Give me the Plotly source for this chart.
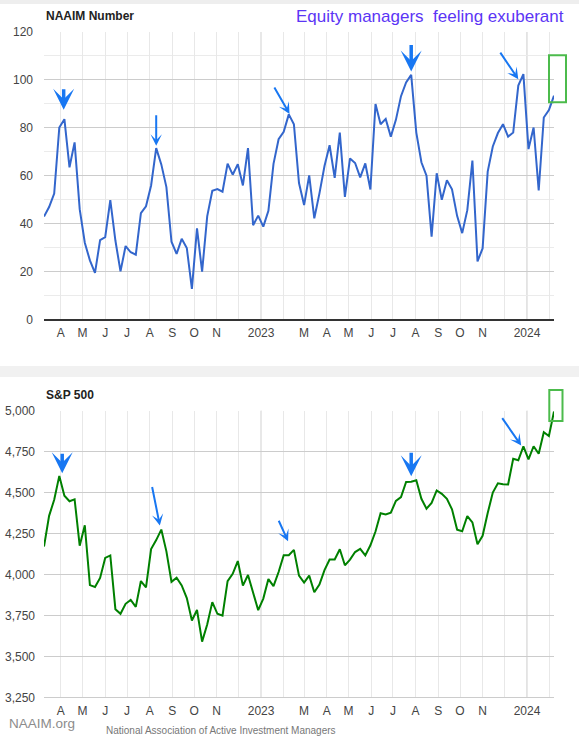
import plotly.graph_objects as go
import pandas as pd

# ---------------- data ----------------
start_date = "2022-03-09"
end_date = "2024-02-07"

naaim = [
    42.9, 46.9, 52.5, 80.1, 83.6, 63.5, 73.9, 46.0, 32.0, 24.6, 19.4, 33.1, 34.3,
    49.8, 32.9, 20.0, 30.6, 28.0, 27.0, 44.3, 47.2, 55.9, 71.5, 64.7, 55.2, 32.4,
    27.3, 33.6, 29.8, 12.7, 38.0, 19.9, 43.0, 53.7, 54.4, 53.3, 65.0, 60.4, 64.8,
    55.9, 71.5, 39.3, 43.3,
    38.7, 45.3, 64.9, 75.2, 78.3, 85.6, 81.5, 56.9, 47.7, 60.1, 42.2, 52.5, 64.0,
    72.7, 59.1, 78.0, 51.1, 67.2, 65.3, 59.3, 65.1, 54.2, 89.9, 81.5, 83.7, 76.3,
    83.3, 93.2, 98.9, 102.1, 78.0, 65.6, 60.0, 34.5, 61.0, 49.9, 58.1, 54.3, 43.2,
    36.0, 45.6, 66.3, 24.2, 29.6, 61.7, 72.2, 77.8, 81.5, 76.3, 78.0, 97.6, 102.4,
    71.1, 80.1, 53.8, 84.3, 87.4, 93.4,
]

spx = [
    4171, 4358, 4456, 4602, 4481, 4447, 4459, 4176, 4300, 3935, 3924, 3979, 4101,
    4116, 3788, 3760, 3821, 3845, 3802, 3960, 3921, 4155, 4210, 4274, 4141, 3955,
    3980, 3933, 3856, 3719, 3783, 3590, 3695, 3831, 3760, 3749, 3959, 4004, 4082,
    3932, 3997, 3882, 3782,
    3853, 3972, 3929, 4015, 4118, 4117, 4150, 3993, 3950, 3993, 3891, 3938, 4027,
    4091, 4092, 4154, 4056, 4091, 4137, 4156, 4116, 4178, 4262, 4374, 4366, 4377,
    4449, 4472, 4565, 4566, 4575, 4462, 4402, 4437, 4513, 4492, 4462, 4398, 4274,
    4264, 4357, 4318, 4185, 4236, 4375, 4500, 4557, 4551, 4550, 4706, 4697, 4782,
    4703, 4783, 4737, 4868, 4845, 4995,
]

month_ticks = [d.strftime("%Y-%m-%d") for d in pd.date_range("2022-04-01", "2024-02-01", freq="MS")]
month_labels = ["A", "M", "J", "J", "A", "S", "O", "N", "", "2023", "", "M", "A", "M",
                "J", "J", "A", "S", "O", "N", "", "2024", ""]
year_lines = ["2023-01-01", "2024-01-01"]

dates = [d.strftime("%Y-%m-%d") for d in pd.date_range(start_date, end_date, freq="7D")]
assert len(dates) == len(naaim) == len(spx), (len(dates), len(naaim), len(spx))

# arrows: (date, value, ax, ay, fat)
naaim_arrows = [
    ("2022-04-05", 87.5, 0, -22, True),
    ("2022-08-10", 72.5, 0, -32, False),
    ("2023-02-09", 85.8, -16, -28, False),
    ("2023-07-26", 103.5, 0, -28, True),
    ("2023-12-20", 100.3, -19, -28, False),
]
spx_arrows = [
    ("2022-04-03", 4618, 0, -21, True),
    ("2022-08-15", 4299, -8, -40, False),
    ("2023-02-07", 4203, -10, -22, False),
    ("2023-07-26", 4599, 0, -25, True),
    ("2023-12-24", 4787, -20, -29, False),
]

# ---------------- geometry (pixels) ----------------
W, H = 579, 738
def px(x):
    return x / W
def py(y):
    return (H - y) / H

x_dom = [px(44), px(554)]
top_dom = [py(319.3), py(32)]
bot_dom = [py(697.3), py(410.7)]

tick_font = dict(family="Liberation Sans, Arial, sans-serif", size=12, color="#444444")
arrow_color = "#1877f2"

fig = go.Figure()
fig.add_trace(go.Scatter(x=dates, y=naaim, mode="lines", xaxis="x", yaxis="y",
                         line=dict(color="#3366cc", width=2), hoverinfo="x+y"))
fig.add_trace(go.Scatter(x=dates, y=spx, mode="lines", xaxis="x2", yaxis="y2",
                         line=dict(color="#008000", width=2), hoverinfo="x+y"))

common_x = dict(type="date", range=[start_date, end_date], tickmode="array",
                tickvals=month_ticks, ticktext=month_labels, showgrid=True,
                gridcolor="#e8e8e8", gridwidth=1, tickfont=tick_font, zeroline=False,
                ticks="outside", ticklen=2, tickcolor="rgba(0,0,0,0)", domain=x_dom,
                automargin=False)

fig.update_layout(
    template="none",
    width=W, height=H, autosize=False, margin=dict(l=0, r=0, t=0, b=0, pad=0),
    paper_bgcolor="white", plot_bgcolor="white", showlegend=False,
    font=dict(family="Liberation Sans, Arial, sans-serif"),
    xaxis=dict(common_x, anchor="y", showline=True, linecolor="#333333", linewidth=1.5),
    yaxis=dict(domain=top_dom, anchor="x", range=[0, 120], dtick=20, tick0=0,
               showgrid=True, gridcolor="#cccccc", zeroline=False, tickfont=tick_font,
               ticklabelstandoff=10, automargin=False, showline=False, ticks="",
               minor=dict(dtick=10, tick0=0, showgrid=True, gridcolor="#ebebeb")),
    xaxis2=dict(common_x, anchor="y2", showline=True, linecolor="#cccccc", linewidth=1),
    yaxis2=dict(domain=bot_dom, anchor="x2", range=[3250, 5000], dtick=250, tick0=3250,
                tickformat=",d", showgrid=True, gridcolor="#cccccc", zeroline=False,
                tickfont=tick_font, ticklabelstandoff=8, automargin=False,
                showline=False, ticks=""),
)

shapes = []
for yl in year_lines:
    shapes.append(dict(type="line", xref="x", yref="y domain", x0=yl, x1=yl, y0=0, y1=1,
                       line=dict(color="#c4c4c4", width=1), layer="below"))
    shapes.append(dict(type="line", xref="x2", yref="y2 domain", x0=yl, x1=yl, y0=0, y1=1,
                       line=dict(color="#c4c4c4", width=1), layer="below"))
# page strips (screenshot background)
shapes.append(dict(type="rect", xref="paper", yref="paper", x0=0, x1=1, y0=py(4), y1=py(0),
                   fillcolor="#eeeeee", line=dict(width=0), layer="below"))
shapes.append(dict(type="rect", xref="paper", yref="paper", x0=0, x1=1, y0=py(377), y1=py(366),
                   fillcolor="#f1f1f1", line=dict(width=0), layer="below"))
# green highlight boxes
shapes.append(dict(type="rect", xref="paper", yref="paper", x0=px(549), x1=px(566),
                   y0=py(102.3), y1=py(55.3), line=dict(color="#4cbb4c", width=2)))
shapes.append(dict(type="rect", xref="paper", yref="paper", x0=px(549.3), x1=px(562.5),
                   y0=py(421), y1=py(390), line=dict(color="#4cbb4c", width=2)))
fig.update_layout(shapes=shapes)

ann = []
ann.append(dict(text="<b>NAAIM Number</b>", xref="paper", yref="paper", x=px(44), y=py(16),
                xanchor="left", yanchor="middle", showarrow=False,
                font=dict(size=12, color="#222222")))
ann.append(dict(text="Equity managers\u00a0 feeling exuberant", xref="paper", yref="paper",
                x=px(566), y=py(17), xanchor="right", yanchor="middle", showarrow=False,
                font=dict(size=17, color="#5b35f5")))
ann.append(dict(text="<b>S&amp;P 500</b>", xref="paper", yref="paper", x=px(44), y=py(395),
                xanchor="left", yanchor="middle", showarrow=False,
                font=dict(size=12, color="#222222")))
ann.append(dict(text="NAAIM.org", xref="paper", yref="paper", x=px(7), y=py(723),
                xanchor="left", yanchor="middle", showarrow=False,
                font=dict(size=13.5, color="#8c8c8c")))
ann.append(dict(text="National Association of Active Investment Managers", xref="paper",
                yref="paper", x=px(104), y=py(730), xanchor="left", yanchor="middle",
                showarrow=False, font=dict(size=10, color="#777777")))

for (xr, yr, arrows) in (("x", "y", naaim_arrows), ("x2", "y2", spx_arrows)):
    for d, v, ax, ay, fat in arrows:
        ann.append(dict(text="", xref=xr, yref=yr, x=d, y=v, ax=ax, ay=ay,
                        showarrow=True, arrowhead=3,
                        arrowsize=1.0 if fat else 0.95,
                        arrowwidth=3.5 if fat else 2,
                        arrowcolor=arrow_color))
fig.update_layout(annotations=ann)

post = ("document.documentElement.style.margin='0';document.body.style.margin='0';"
        "document.body.style.padding='0';document.documentElement.style.overflow='hidden';"
        "document.body.style.overflow='hidden';")
fig.write_html("out.html", config={"responsive": False, "displayModeBar": False},
               post_script=post)
